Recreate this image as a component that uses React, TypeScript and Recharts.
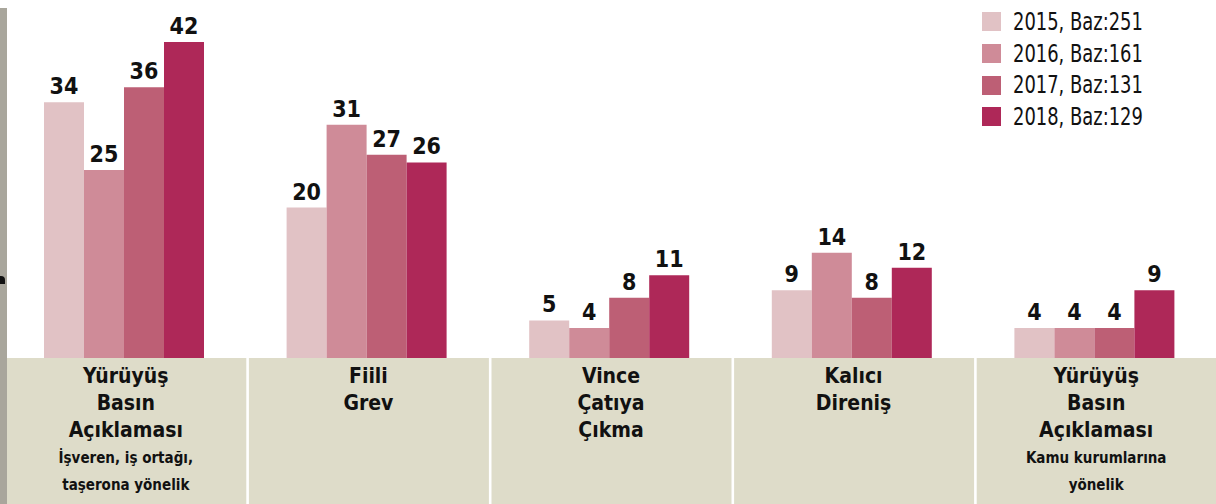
import { BarChart, Bar, XAxis, YAxis, LabelList } from 'recharts'

const categories = ['yuruyus-isveren', 'fiili-grev', 'vince', 'kalici', 'yuruyus-kamu']
const mainLines = [
  ['Yürüyüş', 'Basın', 'Açıklaması'],
  ['Fiili', 'Grev'],
  ['Vince', 'Çatıya', 'Çıkma'],
  ['Kalıcı', 'Direniş'],
  ['Yürüyüş', 'Basın', 'Açıklaması'],
]
const subLines = [
  ['İşveren, iş ortağı,', 'taşerona yönelik'],
  [],
  [],
  [],
  ['Kamu kurumlarına', 'yönelik'],
]

const values2015 = [34, 20, 5, 9, 4]
const values2016 = [25, 31, 4, 14, 4]
const values2017 = [36, 27, 8, 8, 4]
const values2018 = [42, 26, 11, 12, 9]

const seriesNames = ['2015, Baz:251', '2016, Baz:161', '2017, Baz:131', '2018, Baz:129']
const seriesKeys = ['y2015', 'y2016', 'y2017', 'y2018']
const colors = ['#e1c2c5', '#cf8b98', '#bd5f75', '#ae2858']

const FONT = '"DejaVu Sans Condensed", "Roboto", sans-serif'

const data = categories.map((c, i) => ({
  key: c,
  y2015: values2015[i],
  y2016: values2016[i],
  y2017: values2017[i],
  y2018: values2018[i],
}))

function CategoryTick(props: any) {
  const { x, y, index } = props
  const main = mainLines[index] || []
  const sub = subLines[index] || []
  const cx = x + 1.5
  return (
    <g>
      <rect x={x - 118} y={y} width={index === 4 ? 250 : 240} height={146} fill="#dedcc9" />
      {main.map((t, i) => (
        <text key={'m' + i} x={cx} y={y + 25 + i * 27} textAnchor="middle"
          fontFamily={FONT} fontWeight="bold" fontSize={21} fill="#111">{t}</text>
      ))}
      {sub.map((t, i) => (
        <text key={'s' + i} x={cx} y={y + 105 + i * 27} textAnchor="middle"
          fontFamily={FONT} fontWeight="bold" fontSize={15} fill="#111">{t}</text>
      ))}
    </g>
  )
}

function LegendBox() {
  return (
    <div style={{ position: 'absolute', left: 982, top: 6, fontFamily: FONT }}>
      {seriesNames.map((n, i) => (
        <div key={n} style={{ display: 'flex', alignItems: 'center', height: 31.7 }}>
          <div style={{ width: 19, height: 19, background: colors[i], marginRight: 12 }} />
          <span style={{
            display: 'inline-block', fontSize: 24, color: '#111', lineHeight: '26px',
            transform: 'scaleX(0.83)', transformOrigin: 'left center', whiteSpace: 'nowrap',
          }}>{n}</span>
        </div>
      ))}
    </div>
  )
}

export default function App() {
  return (
    <div style={{ position: 'fixed', left: 0, top: 0, width: 1216, height: 504, background: '#fff', overflow: 'hidden' }}>
      <div style={{ position: 'absolute', left: 0, top: 0 }}>
        <BarChart width={1216} height={504} data={data}
          margin={{ top: 42, right: 0, bottom: 0, left: 3 }}
          barCategoryGap={41} barGap={0}>
          <XAxis dataKey="key" axisLine={false} tickLine={false} tickSize={0} tickMargin={0}
            height={146} interval={0} tick={<CategoryTick />} />
          <YAxis hide domain={[0, 42]} />
          {seriesKeys.map((k, i) => (
            <Bar key={k} dataKey={k} name={seriesNames[i]} fill={colors[i]} isAnimationActive={false}>
              <LabelList dataKey={k} position="top" offset={8}
                style={{ fontFamily: FONT, fontWeight: 'bold', fontSize: 23, fill: '#111' }} />
            </Bar>
          ))}
        </BarChart>
      </div>
      <div style={{ position: 'absolute', left: 0, top: 8, width: 7, height: 496, background: '#a9a69c' }} />
      <div style={{ position: 'absolute', left: 0, top: 276, width: 5, height: 8, background: '#111', borderTopRightRadius: 4 }} />
      <LegendBox />
    </div>
  )
}
